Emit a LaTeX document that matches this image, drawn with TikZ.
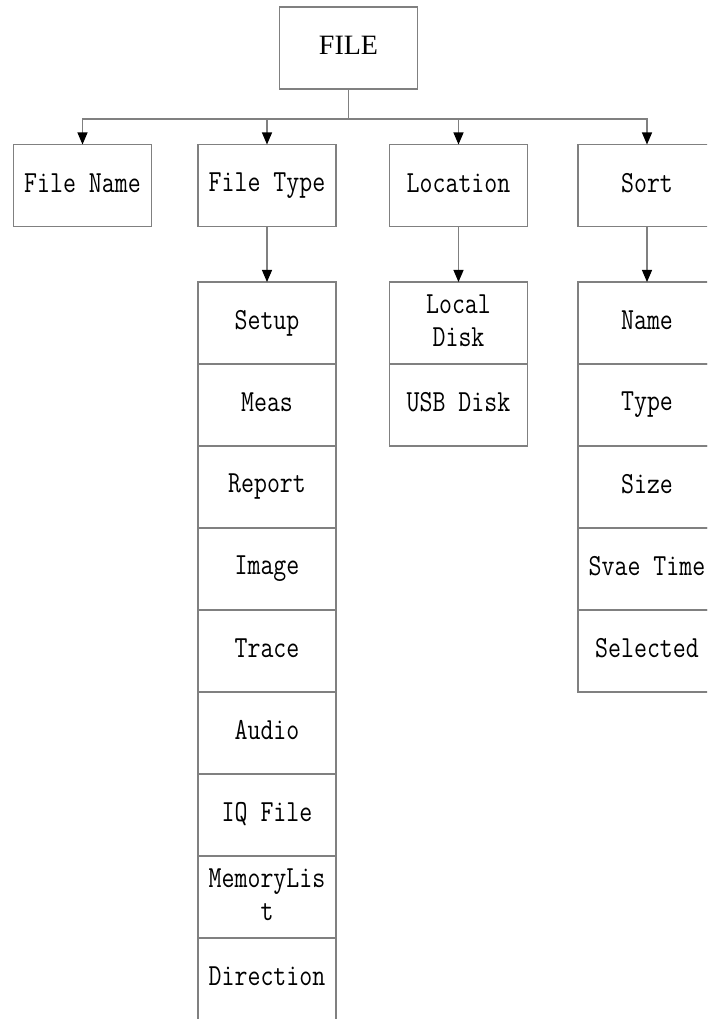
\documentclass[tikz,border=0pt]{standalone}
\usepackage{fontspec}
\setmainfont{Liberation Serif}
\newfontfamily\boxfont[FakeStretch=0.82]{Latin Modern Mono}
\usetikzlibrary{arrows.meta}
\definecolor{linegray}{RGB}{128,128,128}
\newcommand\boxstrut{\rule[-4pt]{0pt}{18pt}}
\tikzset{
  menubox/.style={draw=linegray, line width=0.8pt, minimum width=103.5pt,
    minimum height=61.5pt, inner sep=0pt, outer sep=0pt, align=center,
    font=\boxfont\fontsize{23}{24.5}\selectfont,
    execute at begin node=\boxstrut, execute at end node=\boxstrut},
  rootbox/.style={menubox, font=\fontsize{21}{25}\selectfont},
  link/.style={draw=linegray, line width=0.8pt,
    -{Triangle[length=9pt,width=7.5pt,fill=black,color=black]}}
}
\begin{document}
\begin{tikzpicture}[x=0.75pt, y=-0.75pt]
\useasboundingbox (0,0) rectangle (707,1019);
\clip (0,0) rectangle (707,1019);

% root and first level
\node[rootbox] (file) at (348.5,48) {FILE};
\node[menubox] (fname) at (82.5,185.5) {File Name};
\node[menubox] (ftype) at (267,185.5) {File Type};
\node[menubox] (loc) at (458.5,185.5) {Location};
\node[menubox] (sort) at (647,185.5) {Sort};

% file type options
\node[menubox] (setup) at (267,323) {Setup};
\node[menubox] (meas) at (267,405) {Meas};
\node[menubox] (report) at (267,487) {Report};
\node[menubox] (image) at (267,569) {Image};
\node[menubox] (trace) at (267,651) {Trace};
\node[menubox] (audio) at (267,733) {Audio};
\node[menubox] (iq) at (267,815) {IQ File};
\node[menubox] (mem) at (267,897) {MemoryLis\\t};
\node[menubox] (dir) at (267,979) {Direction};

% location options
\node[menubox] (local) at (458.5,323) {Local\\Disk};
\node[menubox] (usb) at (458.5,405) {USB Disk};

% sort options
\node[menubox] (sname) at (647,323) {Name};
\node[menubox] (stype) at (647,405) {Type};
\node[menubox] (ssize) at (647,487) {Size};
\node[menubox] (stime) at (647,569) {Svae Time};
\node[menubox] (ssel) at (647,651) {Selected};

% connectors
\coordinate (bus) at (348.5,119);
\draw[link] (file.south) -- (bus) -| (fname.north);
\draw[link] (file.south) -- (bus) -| (ftype.north);
\draw[link] (file.south) -- (bus) -| (loc.north);
\draw[link] (file.south) -- (bus) -| (sort.north);
\draw[link] (ftype.south) -- (setup.north);
\draw[link] (loc.south) -- (local.north);
\draw[link] (sort.south) -- (sname.north);
\end{tikzpicture}
\end{document}
